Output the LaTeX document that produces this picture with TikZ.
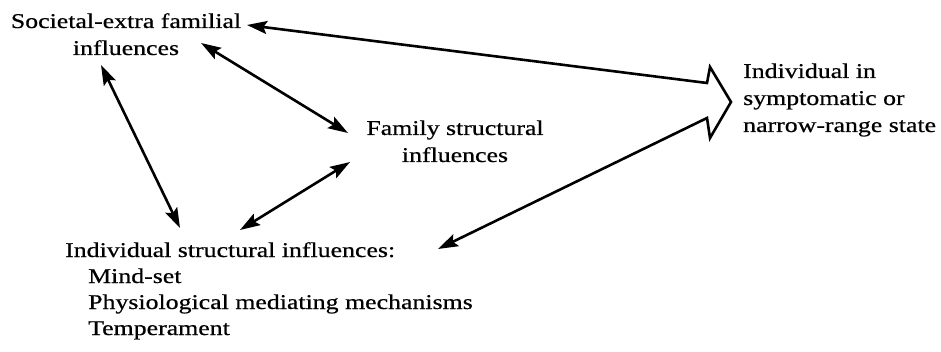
\documentclass[tikz,border=0pt]{standalone}
\usepackage{fontspec}
\setmainfont{Liberation Serif}[FakeStretch=1.23, FakeBold=0.6]
\usetikzlibrary{arrows.meta}
\tikzset{
  >={Stealth[length=20pt,width=13pt,inset=3.5pt]},
  lbl/.style={inner sep=0pt, font=\fontsize{21}{27}\selectfont},
  link/.style={line width=2.6pt, <->},
  bigarrow/.style={line width=2.6pt, line join=miter, <->}
}
\begin{document}
\begin{tikzpicture}[x=1pt,y=-1pt]
  \useasboundingbox (0,0) rectangle (941,352);

  % labels (anchored at the baseline of their last line)
  \node[lbl, anchor=base, align=center] (soc) at (126,55)
    {Societal-extra familial\\influences};
  \node[lbl, anchor=base, align=center] (fam) at (455,162)
    {Family structural\\influences};
  \node[lbl, anchor=base west, align=left] (sym) at (743,132)
    {Individual in\\symptomatic or\\narrow-range state};
  \node[lbl, anchor=base west, align=left, font=\fontsize{21}{26}\selectfont] (ind) at (65,335)
    {Individual structural influences:\\
     \hspace{23pt}Mind-set\\
     \hspace{23pt}Physiological mediating mechanisms\\
     \hspace{23pt}Temperament};

  % connector end points
  \coordinate (socE)  at (247,25);
  \coordinate (socSE) at (201,43);
  \coordinate (socS)  at (101,65);
  \coordinate (famNW) at (348,133);
  \coordinate (famSW) at (350,162);
  \coordinate (indN)  at (180,228);
  \coordinate (indNE) at (240,230);
  \coordinate (indE)  at (438,249);
  % hollow head in front of the symptomatic state
  \coordinate (headA) at (707,83);
  \coordinate (headB) at (710,67);
  \coordinate (tip)   at (731,102);
  \coordinate (headC) at (710,138);
  \coordinate (headD) at (707,118);

  % mutual influences
  \draw[link] (socSE) -- (famNW);
  \draw[link] (socS) -- (indN);
  \draw[link] (indNE) -- (famSW);

  % converging influences on the individual
  \draw[bigarrow] (socE) -- (headA) -- (headB) -- (tip) -- (headC) -- (headD) -- (indE);
\end{tikzpicture}
\end{document}
